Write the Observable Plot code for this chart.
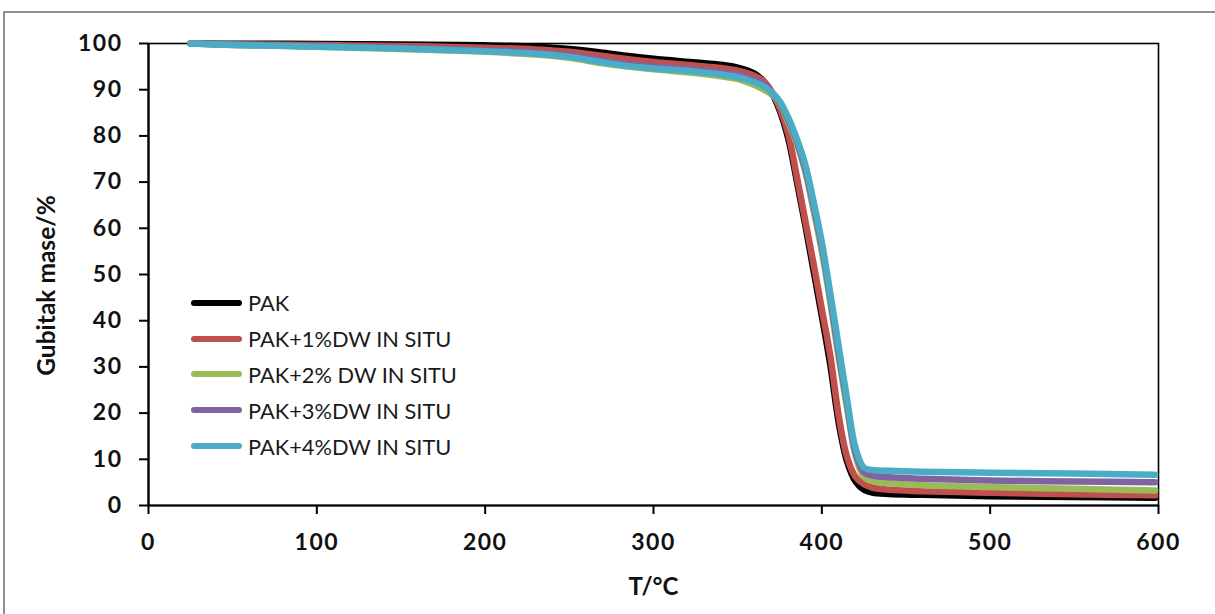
<!DOCTYPE html>
<html>
<head>
<meta charset="utf-8">
<script src="https://cdn.jsdelivr.net/npm/d3@7"></script>
<script src="https://cdn.jsdelivr.net/npm/@observablehq/plot@0.6"></script>
<style>
  html, body { margin: 0; padding: 0; background: #fff; }
  #wrap { position: relative; width: 1215px; height: 614px; overflow: hidden; }
  #border { position: absolute; left: 3px; top: 11px; width: 1400px; height: 800px;
            border-left: 2px solid #8f8f8f; border-top: 2px solid #8f8f8f; box-sizing: border-box; }
  #chart { position: absolute; left: 0; top: 0; }
  #legend { position: absolute; left: 191px; top: 285px; font-family: Lato, "Open Sans", sans-serif;
            font-size: 21.8px; color: #1a1a1a; }
  .row { display: flex; align-items: center; height: 35.8px; }
  .sw { width: 51px; height: 6px; border-radius: 3px; margin-right: 6px; }
  svg text { font-family: Lato, "Open Sans", sans-serif; }
  g[aria-label="x-axis tick label"] text, g[aria-label="y-axis tick label"] text { letter-spacing: 1.5px; }
</style>
</head>
<body>
<div id="wrap">
  <div id="border"></div>
  <div id="chart"></div>
  <div id="legend"></div>
</div>
<script>
// Temperature (°C) sample points
const T = [25, 50, 100, 150, 200, 230, 250, 270, 285, 300, 325, 340, 350, 360, 365, 370, 375, 380, 385, 390, 395, 400, 405, 410, 415, 420, 425, 430, 440, 460, 500, 550, 598];

// Mass (%) for each sample
const PAK   = [100, 99.95, 99.9, 99.8, 99.6, 99.3, 98.8, 98.0, 97.3, 96.7, 95.9, 95.4, 94.8, 93.5, 92.0, 89.5, 85.5, 79.5, 70.5, 61, 51, 41, 30.5, 18, 9.5, 5.2, 3.4, 2.8, 2.5, 2.3, 2.0, 1.85, 1.7];
const PAK1  = [100, 99.85, 99.65, 99.45, 99.1, 98.7, 98.2, 97.3, 96.6, 96.0, 95.2, 94.7, 94.1, 93.0, 92.0, 89.7, 86, 80.5, 71.5, 62, 52.5, 42.5, 32.5, 19.5, 10.5, 6.2, 4.6, 3.9, 3.4, 3.1, 2.75, 2.45, 2.2];
const PAK2  = [100, 99.7, 99.3, 98.8, 98.2, 97.6, 96.9, 95.7, 95.0, 94.4, 93.6, 92.9, 92.3, 91.0, 90.1, 89.0, 87, 83, 78.5, 72.5, 64, 55, 44, 32, 21, 10.8, 6.2, 5.3, 4.8, 4.4, 4.0, 3.6, 3.25];
const PAK3  = [100, 99.75, 99.4, 99.0, 98.5, 98.0, 97.4, 96.3, 95.5, 95.0, 94.3, 93.7, 93.2, 92.1, 91.3, 89.5, 87.2, 83.5, 79, 73, 65, 56, 45, 33, 22, 11.5, 7.2, 6.5, 6.1, 5.8, 5.4, 5.2, 5.05];
const PAK4  = [100, 99.7, 99.3, 98.9, 98.3, 97.8, 97.1, 95.9, 95.1, 94.6, 93.9, 93.3, 92.7, 91.6, 90.8, 89.5, 87.5, 84, 79.5, 74, 66, 57, 46, 34.5, 23, 12.5, 8.2, 7.7, 7.5, 7.3, 7.1, 6.9, 6.65];

const seriesNames = ["PAK", "PAK+1%DW IN SITU", "PAK+2% DW IN SITU", "PAK+3%DW IN SITU", "PAK+4%DW IN SITU"];
const seriesValues = [PAK, PAK1, PAK2, PAK3, PAK4];
const seriesColors = ["#000000", "#C0504D", "#9BBB59", "#8064A2", "#4BACC6"];

const xTicks = [0, 100, 200, 300, 400, 500, 600];
const yTicks = [0, 10, 20, 30, 40, 50, 60, 70, 80, 90, 100];

const data = [];
seriesNames.forEach((name, i) => {
  T.forEach((t, j) => data.push({series: name, T: t, mass: seriesValues[i][j]}));
});

const chart = Plot.plot({
  width: 1215,
  height: 614,
  marginLeft: 148,
  marginRight: 57,
  marginTop: 43,
  marginBottom: 109,
  x: {domain: [0, 600]},
  y: {domain: [0, 100]},
  color: {domain: seriesNames, range: seriesColors},
  marks: [
    Plot.frame({stroke: "#000", strokeWidth: 1.6}),
    Plot.axisX({ticks: xTicks, tickSize: 9, tickPadding: 19, label: null, fontSize: 23, fontWeight: "bold", strokeWidth: 2, fill: "#111"}),
    Plot.axisY({ticks: yTicks, tickSize: 9, tickPadding: 17, label: null, fontSize: 23, fontWeight: "bold", strokeWidth: 2, fill: "#111"}),
    Plot.ruleX([0], {stroke: "#000", strokeWidth: 2.2}),
    Plot.ruleY([0], {stroke: "#000", strokeWidth: 2.2}),
    Plot.line(data, {x: "T", y: "mass", z: "series", stroke: "series", strokeWidth: 6.5, curve: "catmull-rom", strokeLinecap: "round", strokeLinejoin: "round"}),
    Plot.text(["T/°C"], {frameAnchor: "bottom", dy: 89, fontSize: 24, fontWeight: "bold", fill: "#111"}),
    Plot.text(["Gubitak mase/%"], {frameAnchor: "left", textAnchor: "middle", dx: -101, dy: 11, rotate: -90, fontSize: 24.5, fontWeight: "bold", fill: "#111"})
  ]
});
document.getElementById("chart").appendChild(chart);

const legend = document.getElementById("legend");
seriesNames.forEach((name, i) => {
  const row = document.createElement("div");
  row.className = "row";
  const sw = document.createElement("div");
  sw.className = "sw";
  sw.style.background = seriesColors[i];
  const lab = document.createElement("span");
  lab.textContent = name;
  row.appendChild(sw);
  row.appendChild(lab);
  legend.appendChild(row);
});
</script>
</body>
</html>
